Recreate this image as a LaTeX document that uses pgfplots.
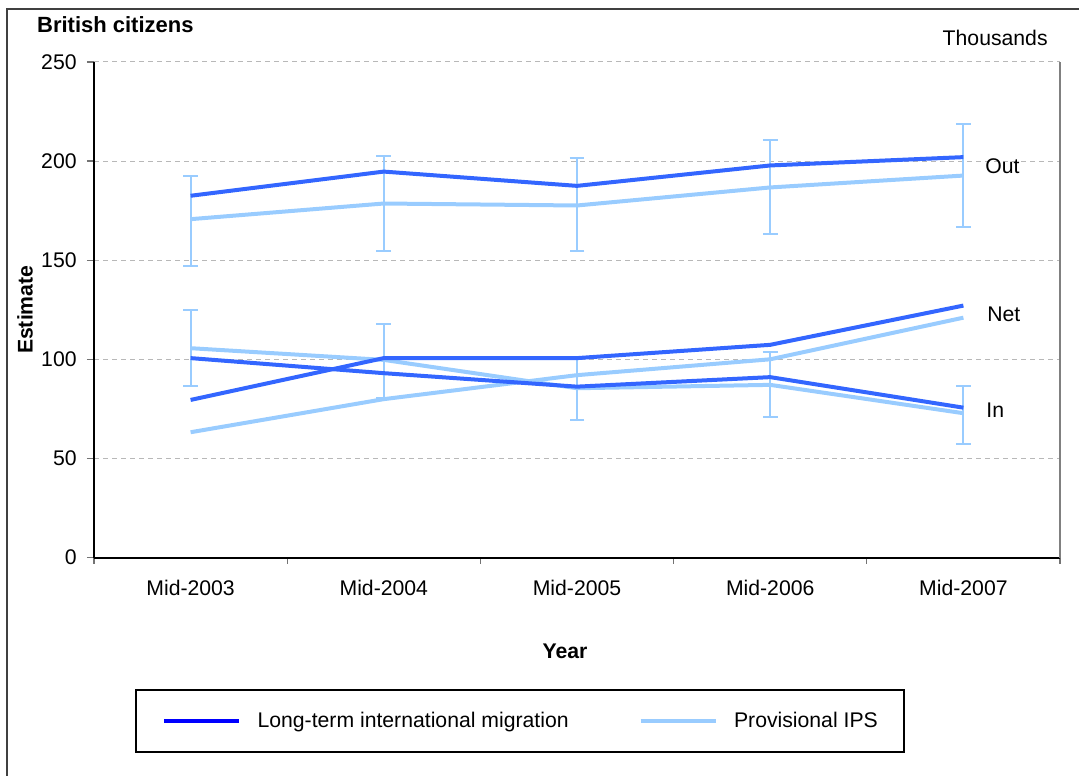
\documentclass[border=0pt]{standalone}
\usepackage{pgfplots}
\pgfplotsset{compat=1.18}
\usepackage{fontspec}
\setmainfont{Liberation Sans}
\definecolor{ltim}{HTML}{3366FF}
\definecolor{ips}{HTML}{99CCFF}
\definecolor{legblue}{HTML}{0000FF}
\begin{document}
\begin{tikzpicture}[font=\fontsize{10.6}{12.7}\selectfont]
\useasboundingbox (0,0) rectangle (539.5pt,387.5pt);
\draw[line width=1pt, color=black!75] (3.5pt,-2pt) -- (3.5pt,383pt) -- (542pt,383pt);
\begin{axis}[
  at={(47pt,108.75pt)}, anchor=south west,
  scale only axis, width=483pt, height=247.75pt,
  clip=false,
  xmin=0, xmax=5, ymin=0, ymax=250,
  axis x line*=bottom, axis y line*=left,
  axis line style={-, line width=1pt, black},
  xtick={0.5,1.5,2.5,3.5,4.5},
  xticklabels={Mid-2003,Mid-2004,Mid-2005,Mid-2006,Mid-2007},
  major x tick style={draw=none},
  minor xtick={0,1,2,3,4,5},
  minor x tick style={black!55, line width=0.6pt},
  ytick={0,50,100,150,200,250},
  major y tick style={black!55, line width=0.6pt},
  tick align=outside,
  major tick length=3.5pt, minor tick length=3pt,
  ymajorgrids,
  grid style={dash pattern=on 2.5pt off 2pt, color=black!28, line width=0.5pt},
  /pgf/number format/assume math mode=true,
  yticklabel style={anchor=east, inner sep=0pt, xshift=-5pt},
  xticklabel style={anchor=base, inner sep=0pt, yshift=-15.25pt},
  every axis x label/.style={at={(axis description cs:0.4876,-0.2048)}, anchor=base, font=\fontsize{10.6}{12.7}\selectfont\bfseries},
  every axis y label/.style={at={(axis description cs:-0.0714,0.5)}, rotate=90, anchor=center, font=\fontsize{10.6}{12.7}\selectfont\bfseries},
  xlabel={Year}, ylabel={Estimate},
  legend columns=2,
  legend cell align=left,
  legend style={at={(axis description cs:0.441,-0.330)}, anchor=center,
    draw=black, line width=1pt, inner xsep=13pt, inner ysep=10.75pt,
    nodes={inner sep=0pt},
    /tikz/every odd column/.append style={column sep=8.2pt},
    /tikz/every even column/.append style={column sep=35pt}},
  legend image code/.code={\draw[#1] (0pt,0pt) -- (37.5pt,0pt);},
]
\addlegendimage{legblue, line width=2pt}
\addlegendentry{Long-term international migration}
\addlegendimage{ips, line width=2pt}
\addlegendentry{Provisional IPS}

% Out - Provisional IPS with error bars
\addplot[ips, line width=2pt, forget plot,
  error bars/.cd, y dir=both, y explicit,
  error bar style={line width=1pt, ips},
  error mark options={ips, line width=1pt, mark size=3.7pt, rotate=90}]
coordinates {
  (0.5,170.7) += (0,21.9) -= (0,23.6)
  (1.5,178.6) += (0,24.2) -= (0,24.2)
  (2.5,177.6) += (0,24.2) -= (0,23.2)
  (3.5,186.7) += (0,24.1) -= (0,23.4)
  (4.5,192.7) += (0,26.1) -= (0,26.2)
};
% In - Provisional IPS with error bars
\addplot[ips, line width=2pt, forget plot,
  error bars/.cd, y dir=both, y explicit,
  error bar style={line width=1pt, ips},
  error mark options={ips, line width=1pt, mark size=3.7pt, rotate=90}]
coordinates {
  (0.5,105.6) += (0,19.3) -= (0,19.0)
  (1.5,99.7) += (0,18.1) -= (0,19.3)
  (2.5,85.4) += (0,16.0) -= (0,16.0)
  (3.5,87.1) += (0,16.8) -= (0,16.3)
  (4.5,72.8) += (0,13.8) -= (0,15.5)
};
% Net - Provisional IPS
\addplot[ips, line width=2pt, forget plot] coordinates {
  (0.5,63.2) (1.5,79.9) (2.5,92.0) (3.5,100.0) (4.5,121.0)
};
% Out - LTIM
\addplot[ltim, line width=2pt, forget plot] coordinates {
  (0.5,182.5) (1.5,194.7) (2.5,187.5) (3.5,197.8) (4.5,202.0)
};
% Net - LTIM
\addplot[ltim, line width=2pt, forget plot] coordinates {
  (0.5,79.5) (1.5,100.6) (2.5,100.6) (3.5,107.3) (4.5,127.1)
};
% In - LTIM
\addplot[ltim, line width=2pt, forget plot] coordinates {
  (0.5,100.6) (1.5,93.0) (2.5,86.2) (3.5,91.0) (4.5,75.6)
};

\draw[black!50, line width=0.6pt] (rel axis cs:1,0) -- (rel axis cs:1,1);
\node[anchor=base west, inner sep=0pt] at (axis cs:4.612,193.6) {Out};
\node[anchor=base west, inner sep=0pt] at (axis cs:4.622,119.0) {Net};
\node[anchor=base west, inner sep=0pt] at (axis cs:4.617,70.8) {In};
\node[anchor=base east, inner sep=0pt] at (axis description cs:0.9876,1.0329) {Thousands};
\node[anchor=base west, inner sep=0pt, font=\fontsize{11}{13}\selectfont\bfseries] at (axis description cs:-0.0593,1.06) {British citizens};
\end{axis}
\end{tikzpicture}
\end{document}
